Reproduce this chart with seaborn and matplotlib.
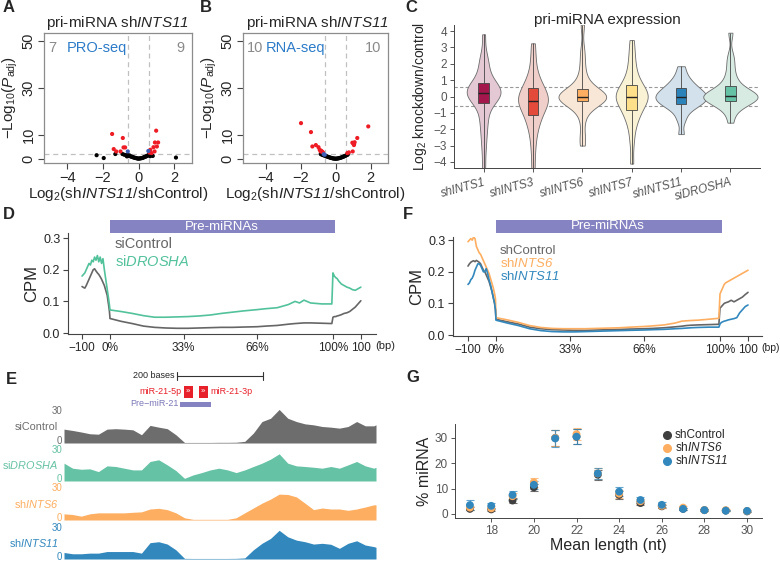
import matplotlib
matplotlib.use("Agg")
import matplotlib.pyplot as plt
import matplotlib.transforms as mtrans
from matplotlib.patches import Rectangle
from matplotlib.lines import Line2D
import pandas as pd
import seaborn as sns

sns.set_style("ticks")
plt.rcParams['font.family'] = ['Liberation Sans', 'DejaVu Sans']
plt.rcParams['mathtext.fontset'] = 'custom'
plt.rcParams['mathtext.rm'] = 'Liberation Sans'
plt.rcParams['mathtext.it'] = 'Liberation Sans:italic'
plt.rcParams['mathtext.bf'] = 'Liberation Sans:bold'
# \mathsf is used for italic gene names so that digits are italic too
plt.rcParams['mathtext.sf'] = 'Liberation Sans:italic'

W, H = 780, 563

# ---------------- data ----------------
# A: volcano, PRO-seq
A_BLACK_X = [-2.35, -1.95, -1.3, 2.1, -0.9, -0.8, -0.7, -0.65, -0.6, -0.55, -0.5, -0.45,
             -0.4, -0.35, -0.3, -0.25, -0.2, -0.15, -0.1, -0.05, 0.0, 0.05, 0.1, 0.15,
             0.2, 0.25, 0.3, 0.35, 0.4, 0.45, 0.5, 0.55, 0.6, 0.65, 0.7, 0.8]
A_BLACK_Y = [1.5, 0.3, 2.0, 0.5, 2.0, 1.7, 1.5, 1.0, 1.6, 1.2, 1.4, 1.0,
             0.9, 0.8, 0.6, 0.5, 0.4, 0.3, 0.2, 0.1, 0.05, 0.1, 0.15, 0.25,
             0.3, 0.45, 0.6, 0.8, 0.9, 1.1, 1.3, 1.5, 1.7, 1.1, 1.5, 1.2]
A_RED_X = [-1.48, -1.39, -1.25, -1.01, -0.84, -0.75, -0.88, 0.99, 0.92, 1.1, 1.03, 0.84,
           0.66, 0.9, 0.62, 0.73]
A_RED_Y = [10.5, 4.1, 3.1, 3.1, 4.8, 4.8, 8.8, 11.9, 6.9, 6.9, 5.2, 4.9, 3.8, 3.1, 2.6, 2.4]
A_BLUE_X = [-0.6, 0.55]
A_BLUE_Y = [3.1, 3.3]

# B: volcano, RNA-seq
B_BLACK_X = [-0.85, -0.8, -0.75, -0.7, -0.65, -0.6, -0.55, -0.5, -0.45, -0.4, -0.35, -0.3,
             -0.25, -0.2, -0.15, -0.1, -0.05, 0.0, 0.05, 0.1, 0.15, 0.2, 0.25, 0.3,
             0.35, 0.4, 0.45, 0.5, 0.55, 0.6, 0.65, 0.7]
B_BLACK_Y = [2.0, 1.8, 1.7, 1.5, 1.4, 1.3, 1.1, 1.0, 0.85, 0.7, 0.6, 0.45,
             0.35, 0.25, 0.15, 0.1, 0.05, 0.02, 0.05, 0.1, 0.15, 0.25, 0.35, 0.45,
             0.6, 0.75, 0.9, 1.05, 1.2, 1.4, 1.6, 1.8]
B_RED_X = [-1.98, -1.41, -1.33, -1.13, -0.98, -0.91, -0.86, -0.83, -0.78, -0.72,
           1.87, 1.24, 1.0, 1.06, 0.96, 1.09, 1.05, 0.98, 0.76, 0.67]
B_RED_Y = [15.1, 11.3, 5.2, 5.8, 4.9, 3.8, 3.1, 3.4, 3.1, 2.7,
           13.7, 8.8, 6.6, 6.2, 6.8, 7.0, 5.8, 3.1, 2.7, 2.4]
B_BLUE_X = [-0.62, -0.68]
B_BLUE_Y = [1.7, 1.9]

# C: violin values (log2 knockdown/control)
C_GROUPS = ["shINTS1", "shINTS3", "shINTS6", "shINTS7", "shINTS11", "siDROSHA"]
C_VALUES = {
    "shINTS1": [-4.4, -3.2, -2.4, -1.8, -1.3, -0.9, -0.4, -0.1, 0.0, 0.08, 0.14, 0.18, 0.2,
                0.24, 0.3, 0.38, 0.5, 0.65, 0.8, 1.0, 1.3, 1.8, 2.2, 2.4, 3.8],
    "shINTS3": [-4.4, -3.3, -2.5, -2.0, -1.6, -1.35, -1.15, -0.9, -0.7, -0.55, -0.42, -0.33,
                -0.25, -0.15, -0.05, 0.05, 0.18, 0.35, 0.55, 0.7, 0.9, 1.2, 1.7, 2.4, 3.25],
    "shINTS6": [-3.0, -2.4, -1.4, -0.8, -0.55, -0.4, -0.3, -0.08, -0.05, -0.03, -0.02, -0.01,
                0.0, 0.01, 0.02, 0.03, 0.05, 0.08, 0.45, 0.6, 0.9, 1.3, 2.0, 2.8, 4.4],
    "shINTS7": [-4.1, -2.8, -2.0, -1.5, -1.2, -1.0, -0.8, -0.55, -0.4, -0.28, -0.18, -0.08,
                0.0, 0.08, 0.16, 0.26, 0.38, 0.52, 0.7, 0.9, 1.2, 1.6, 2.1, 2.7, 3.45],
    "shINTS11": [-2.3, -1.5, -1.1, -0.8, -0.65, -0.55, -0.45, -0.35, -0.28, -0.2, -0.14, -0.07,
                 0.0, 0.08, 0.15, 0.22, 0.3, 0.4, 0.5, 0.6, 0.75, 0.9, 1.1, 1.4, 1.85],
    "siDROSHA": [-1.6, -1.0, -0.7, -0.5, -0.4, -0.32, -0.25, -0.15, -0.08, -0.04, -0.01, 0.02,
                 0.05, 0.08, 0.12, 0.2, 0.3, 0.45, 0.65, 0.8, 1.1, 1.5, 2.0, 2.5, 3.9],
}
C_BOX_COLORS = ["#a3174d", "#e34a3a", "#fdae61", "#fee08b", "#2b83ba", "#66c2a5"]
C_VIOLIN_COLORS = ["#e8c5d4", "#f6c9c4", "#fee7d0", "#fff5cf", "#cde1f1", "#d4eee4"]

# D / F: metagene profiles (CPM)
UP_BP = [-100, -95, -90, -85, -80, -75, -70, -65, -60, -55, -50, -45, -40, -35, -30, -25,
         -20, -15, -10, -5, -2, 0]
BODY_PCT = [0, 5, 10, 15, 20, 25, 30, 35, 40, 45, 50, 55, 60, 66, 70, 75, 80, 83, 85, 87,
            90, 95, 99.5]
DOWN_BP = [0, 5, 10, 15, 20, 30, 40, 50, 60, 70, 80, 90, 100]

D_SICONTROL = {
    "up": [0.147, 0.144, 0.142, 0.15, 0.16, 0.17, 0.18, 0.19, 0.2, 0.203, 0.196, 0.19, 0.185,
           0.178, 0.17, 0.16, 0.15, 0.135, 0.12, 0.09, 0.07, 0.05],
    "body": [0.046, 0.037, 0.03, 0.022, 0.018, 0.016, 0.015, 0.015, 0.016, 0.017, 0.018, 0.018,
             0.019, 0.02, 0.022, 0.024, 0.028, 0.03, 0.031, 0.032, 0.032, 0.031, 0.03],
    "down": [0.05, 0.052, 0.052, 0.054, 0.055, 0.058, 0.062, 0.064, 0.068, 0.075, 0.082, 0.092, 0.102],
}
D_SIDROSHA = {
    "up": [0.18, 0.185, 0.19, 0.2, 0.21, 0.22, 0.215, 0.23, 0.225, 0.24, 0.23, 0.245, 0.225,
           0.24, 0.22, 0.235, 0.2, 0.17, 0.14, 0.11, 0.09, 0.075],
    "body": [0.073, 0.068, 0.062, 0.055, 0.05, 0.05, 0.051, 0.052, 0.054, 0.057, 0.062, 0.066,
             0.07, 0.074, 0.077, 0.08, 0.09, 0.1, 0.095, 0.104, 0.095, 0.092, 0.092],
    "down": [0.19, 0.18, 0.175, 0.172, 0.165, 0.155, 0.15, 0.145, 0.142, 0.137, 0.135, 0.14, 0.145],
}
F_SHCONTROL = {
    "up": [0.218, 0.225, 0.23, 0.233, 0.235, 0.232, 0.236, 0.233, 0.23, 0.225, 0.215, 0.205,
           0.2, 0.19, 0.18, 0.17, 0.155, 0.14, 0.12, 0.1, 0.08, 0.05],
    "body": [0.05, 0.042, 0.035, 0.025, 0.02, 0.017, 0.016, 0.015, 0.015, 0.016, 0.017, 0.018,
             0.019, 0.02, 0.021, 0.023, 0.026, 0.028, 0.03, 0.031, 0.032, 0.033, 0.034],
    "down": [0.085, 0.09, 0.095, 0.1, 0.102, 0.105, 0.11, 0.105, 0.11, 0.115, 0.12, 0.128, 0.135],
}
F_SHINTS6 = {
    "up": [0.295, 0.3, 0.305, 0.3, 0.31, 0.305, 0.28, 0.27, 0.26, 0.255, 0.245, 0.235, 0.225,
           0.215, 0.205, 0.195, 0.18, 0.165, 0.15, 0.13, 0.115, 0.055],
    "body": [0.055, 0.048, 0.04, 0.03, 0.024, 0.021, 0.02, 0.02, 0.02, 0.021, 0.022, 0.023,
             0.025, 0.027, 0.029, 0.032, 0.038, 0.044, 0.045, 0.046, 0.047, 0.05, 0.053],
    "down": [0.13, 0.14, 0.15, 0.16, 0.165, 0.17, 0.175, 0.18, 0.185, 0.19, 0.195, 0.2, 0.205],
}
F_SHINTS11 = {
    "up": [0.16, 0.165, 0.175, 0.18, 0.19, 0.205, 0.215, 0.225, 0.225, 0.22, 0.21, 0.2, 0.2,
           0.21, 0.195, 0.175, 0.16, 0.14, 0.12, 0.1, 0.08, 0.047],
    "body": [0.047, 0.038, 0.03, 0.02, 0.014, 0.011, 0.01, 0.01, 0.011, 0.012, 0.013, 0.014,
             0.015, 0.016, 0.017, 0.018, 0.02, 0.021, 0.022, 0.023, 0.024, 0.025, 0.025],
    "down": [0.035, 0.04, 0.042, 0.044, 0.045, 0.048, 0.05, 0.052, 0.055, 0.07, 0.08, 0.09, 0.095],
}

# E: genome browser tracks around miR-21 (bases)
TRACK_POS = [0, 20, 40, 60, 80, 100, 120, 140, 160, 180, 200, 220, 240, 260, 280, 300, 320,
             340, 360, 380, 400, 420, 440, 460, 480, 500, 520, 540, 560, 580, 600, 620, 640,
             660, 680, 700, 720, 725]
TRACK_SICONTROL = [12.6, 11.4, 10, 8.4, 8, 12.6, 13, 12.6, 12, 7.5, 16, 14.4, 13, 7.5, 0.5, 0.5,
                   0.5, 0.5, 0.6, 0.6, 0.7, 1.5, 9, 19.5, 22.5, 30.5, 22.5, 19.5, 17.4, 16.5,
                   15, 14.4, 13.5, 15, 19.5, 15.6, 15.6, 16.5]
TRACK_SIDROSHA = [16.7, 12, 11, 11.4, 8.8, 14.2, 13.6, 12, 10.4, 10.4, 18.3, 19.9, 15.1, 9.8,
                  2.5, 5.7, 7.9, 10.4, 12, 10.4, 7.9, 10.4, 13.6, 16.7, 20.5, 25.5, 16.7, 14.2,
                  13.6, 12.9, 12, 13.6, 12, 15.1, 18.3, 14.2, 12, 12.9]
TRACK_SHINTS6 = [5.6, 5, 3.5, 5.6, 6.5, 6.5, 6.5, 6.5, 7, 7.4, 10, 10.6, 9.4, 6.5, 2, 0.6, 0.6,
                 0.6, 0.6, 0.6, 2, 6.5, 10.9, 15.3, 19, 23.5, 23.2, 21, 15.3, 9.4, 10.9, 10,
                 10, 8.8, 10, 11.8, 13.8, 13.8]
TRACK_SHINTS11 = [6.1, 4.9, 4.9, 5.5, 5.5, 7, 7, 7, 7, 5.5, 15.3, 16.2, 14, 8.6, 0.6, 0.5, 0.5,
                  0.5, 0.5, 0.5, 0.6, 1, 8.6, 14.7, 19.3, 26.9, 20.8, 17.7, 16.2, 14, 14.7,
                  13.8, 10, 14.7, 17.1, 13.1, 11.6, 11]
SCALE_BAR = (262, 462)
MIR_5P = (279, 300)
MIR_3P = (314, 335)
PRE_MIR = (270, 342)

# G: miRNA length distribution
LENGTHS = [17, 18, 19, 20, 21, 22, 23, 24, 25, 26, 27, 28, 29, 30]
G_SHCONTROL = [2.0, 1.8, 5.3, 10.5, 30.0, 30.5, 15.5, 7.5, 4.3, 3.0, 2.0, 1.5, 1.3, 1.0]
G_SHINTS6 = [2.5, 2.2, 7.0, 12.5, 30.0, 31.5, 16.0, 8.0, 5.0, 3.2, 2.5, 1.5, 1.5, 1.2]
G_SHINTS11 = [3.5, 3.2, 7.5, 11.5, 29.8, 30.5, 16.0, 8.8, 5.5, 3.6, 2.0, 1.5, 1.3, 1.2]
G_SHCONTROL_SD = [0.6, 0.6, 0.8, 1.5, 3.0, 3.0, 2.0, 1.5, 0.8, 0.6, 0.4, 0.3, 0.3, 0.3]
G_SHINTS6_SD = [0.8, 0.8, 1.2, 1.8, 3.2, 2.5, 2.2, 1.6, 1.0, 0.8, 0.5, 0.3, 0.3, 0.3]
G_SHINTS11_SD = [2.0, 1.2, 1.5, 1.5, 3.4, 3.0, 2.2, 1.8, 1.2, 1.0, 0.5, 0.3, 0.3, 0.3]

GRAY = "#666666"
GREEN = "#52c29b"
ORANGE = "#fdae61"
BLUE = "#3288bd"
PURPLE = "#8583c1"


def box(x0, y0, x1, y1):
    # pixel box (top-left origin) -> figure fraction rect
    return [x0 / W, 1 - y1 / H, (x1 - x0) / W, (y1 - y0) / H]


def ftext(x, y, s, **kw):
    fig.text(x / W, 1 - y / H, s, **kw)


fig = plt.figure(figsize=(7.8, 5.63), dpi=100)

# panel letters
for letter, (lx, ly) in {"A": (3, 8), "B": (200, 8), "C": (405, 8), "D": (3, 215),
                         "F": (403, 215), "E": (6, 380), "G": (406, 378)}.items():
    ftext(lx, ly, letter, fontsize=12, fontweight="bold", va="center")


# ---------------- A / B volcano ----------------
def volcano(rect, bx, by, rx, ry, ux, uy, n_down, n_up, assay, title_x):
    ax = fig.add_axes(box(*rect))
    df = pd.DataFrame({
        "lfc": bx + rx + ux,
        "p": by + ry + uy,
        "grp": ["ns"] * len(bx) + ["sig"] * len(rx) + ["near"] * len(ux),
    })
    for v in (-0.585, 0.585):
        ax.axvline(v, ls=(0, (4, 3)), color="#c0c0c0", lw=0.9, zorder=1)
    ax.axhline(2, ls=(0, (4, 3)), color="#c0c0c0", lw=0.9, zorder=1)
    sns.scatterplot(data=df, x="lfc", y="p", hue="grp",
                    palette={"ns": "black", "sig": "#ee1c25", "near": "#3d5fb8"},
                    s=9, linewidth=0, legend=False, ax=ax, zorder=3)
    ax.set_xlim(-5.3, 3.0)
    ax.set_ylim(-1.8, 53.3)
    ax.set_xticks([-4, -2, 0, 2])
    ax.set_xticklabels(["\u22124", "\u22122", "0", "2"])
    ax.set_yticks([0, 10, 30, 50])
    ax.set_yticklabels(["0", "10", "30", "50"], rotation=90, va="center")
    ax.tick_params(labelsize=10.5, length=4, width=0.8, color="#444444", pad=2)
    for sp in ax.spines.values():
        sp.set_color("#8c8c8c")
        sp.set_linewidth(0.9)
    ax.set_xlabel(r"Log$_2$(sh$\mathsf{INTS11}$/shControl)", fontsize=11, labelpad=0)
    ax.set_ylabel(r"$-$Log$_{10}$($P_{\mathrm{adj}}$)", fontsize=11, labelpad=1)
    ax.text(-5.05, 47, str(n_down), color="#8a8a8a", fontsize=10.5, va="center", ha="left")
    ax.text(2.6, 47, str(n_up), color="#8a8a8a", fontsize=10.5, va="center", ha="right")
    ax.text(assay[1], 47, assay[0], color="#2b7bc8", fontsize=10.5, va="center", ha="center")
    ftext(title_x, 23, r"pri-miRNA sh$\mathsf{INTS11}$", fontsize=11, ha="center", va="center")
    return ax


volcano((44, 33, 192, 163), A_BLACK_X, A_BLACK_Y, A_RED_X, A_RED_Y, A_BLUE_X, A_BLUE_Y,
        7, 9, ("PRO-seq", -2.35), 118)
volcano((243, 33, 388, 163), B_BLACK_X, B_BLACK_Y, B_RED_X, B_RED_Y, B_BLUE_X, B_BLUE_Y,
        10, 10, ("RNA-seq", -2.3), 318)

# ---------------- C violins ----------------
axC = fig.add_axes(box(454, 25, 760, 168))
dfc = pd.DataFrame([(g, v) for g in C_GROUPS for v in C_VALUES[g]], columns=["group", "value"])
for v in (-0.585, 0.585):
    axC.axhline(v, ls=(0, (3, 2)), color="#999999", lw=0.8, zorder=0)
sns.violinplot(data=dfc, x="group", y="value", hue="group", order=C_GROUPS,
               palette=dict(zip(C_GROUPS, C_VIOLIN_COLORS)), cut=0, inner=None,
               density_norm="area", common_norm=True, width=1.1, bw_adjust=0.65,
               linewidth=0.6, linecolor="#6b6b6b", legend=False, ax=axC)
sns.boxplot(data=dfc, x="group", y="value", hue="group", order=C_GROUPS,
            palette=dict(zip(C_GROUPS, C_BOX_COLORS)), width=0.22, whis=(0, 100),
            showfliers=False, linewidth=0.6, linecolor="#444444", saturation=1,
            capprops=dict(linewidth=0), medianprops=dict(color="#222222", linewidth=1.0),
            legend=False, ax=axC)
axC.set_xlim(-0.6, 5.6)
axC.set_ylim(-4.37, 4.37)
axC.set_yticks([-4, -3, -2, -1, 0, 1, 2, 3, 4])
axC.set_yticklabels(["\u22124", "\u22123", "\u22122", "\u22121", "0", "1", "2", "3", "4"])
axC.set_xticks(range(len(C_GROUPS)))
axC.set_xticklabels(C_GROUPS, rotation=15, ha="right", rotation_mode="anchor",
                    fontstyle="italic")
axC.tick_params(labelsize=8.5, colors="#555555", length=3, width=0.7, pad=2)
axC.tick_params(axis="x", labelsize=8.5, pad=3)
sns.despine(ax=axC)
for sp in ("left", "bottom"):
    axC.spines[sp].set_color("#444444")
    axC.spines[sp].set_linewidth(0.7)
axC.set_xlabel("")
axC.set_ylabel(r"Log$_2$ knockdown/control", fontsize=10, labelpad=3)
ftext(607, 20, "pri-miRNA expression", fontsize=11, ha="center", va="center")


# ---------------- D / F metagene ----------------
FLANK = 0.125  # plot units per bp on the flanks


def profile_df(series):
    rows = []
    for name, d in series.items():
        xs = [bp * FLANK for bp in UP_BP] + BODY_PCT + [100 + bp * FLANK for bp in DOWN_BP]
        ys = d["up"] + d["body"] + d["down"]
        rows += [(name, x, y) for x, y in zip(xs, ys)]
    return pd.DataFrame(rows, columns=["sample", "pos", "cpm"])


def metagene(rect, series, palette, xlim, ytop, bp_x, bp_size):
    ax = fig.add_axes(box(*rect))
    df = profile_df(series)
    sns.lineplot(data=df, x="pos", y="cpm", hue="sample", palette=palette, sort=False,
                 estimator=None, legend=False, lw=1.2, ax=ax)
    ax.set_xlim(*xlim)
    ax.set_ylim(-0.003, ytop)
    ax.set_yticks([0.0, 0.1, 0.2, 0.3])
    ax.set_yticklabels(["0.0", "0.1", "0.2", "0.3"])
    ax.set_xticks([-100 * FLANK, 0, 33, 66, 100, 100 + 100 * FLANK])
    ax.set_xticklabels(["\u2212100", "0%", "33%", "66%", "100%", "100"])
    ax.tick_params(labelsize=8.5, length=3.5, width=0.8, color="#444444", pad=2)
    ax.tick_params(axis="y", labelsize=9)
    sns.despine(ax=ax)
    for sp in ("left", "bottom"):
        ax.spines[sp].set_color("#444444")
        ax.spines[sp].set_linewidth(0.8)
    ax.set_xlabel("")
    ax.set_ylabel("CPM", fontsize=12, labelpad=3)
    trans = mtrans.blended_transform_factory(ax.transData, ax.transAxes)
    h = rect[3] - rect[1]
    bottom = 1.0 + (rect[1] - 233) / h
    ax.add_patch(Rectangle((0, bottom), 101, 13 / h, transform=trans, color=PURPLE,
                           clip_on=False, lw=0))
    ax.text(50, bottom + 6.5 / h, "Pre-miRNAs", transform=trans, color="white",
            fontsize=9.5, ha="center", va="center")
    ftext(bp_x, rect[3] + 12, "(bp)", fontsize=bp_size, ha="left", va="center")
    return ax


metagene((68, 233, 376, 334), {"siControl": D_SICONTROL, "siDROSHA": D_SIDROSHA},
         {"siControl": GRAY, "siDROSHA": GREEN}, (-18.8, 119.3), 0.316, 375, 8)
ftext(115, 244, "siControl", color=GRAY, fontsize=10.5, va="center")
ftext(115, 262, r"si$\mathsf{DROSHA}$", color=GREEN, fontsize=10.5, va="center")

metagene((453, 237, 762, 336), {"shControl": F_SHCONTROL, "shINTS6": F_SHINTS6,
                                "shINTS11": F_SHINTS11},
         {"shControl": GRAY, "shINTS6": ORANGE, "shINTS11": BLUE}, (-19.2, 118.75), 0.31,
         761, 7.5)
ftext(500, 251, "shControl", color=GRAY, fontsize=9.5, va="center")
ftext(500, 263.5, r"sh$\mathsf{INTS6}$", color=ORANGE, fontsize=9.5, va="center")
ftext(500, 276, r"sh$\mathsf{INTS11}$", color=BLUE, fontsize=9.5, va="center")

# ---------------- E tracks ----------------
tracks = [
    ("siControl", TRACK_SICONTROL, "#6d6d6d", 410, 443),
    (r"si$\mathsf{DROSHA}$", TRACK_SIDROSHA, "#66c2a5", 449, 481),
    (r"sh$\mathsf{INTS6}$", TRACK_SHINTS6, ORANGE, 487, 520),
    (r"sh$\mathsf{INTS11}$", TRACK_SHINTS11, BLUE, 527, 559),
]
for label, vals, col, top, base in tracks:
    ax = fig.add_axes(box(64, top, 376, base))
    ax.fill_between(TRACK_POS, vals, color=col, lw=0, clip_on=False)
    ax.set_xlim(0, 725)
    ax.set_ylim(0, 30)
    ax.axis("off")
    ftext(62, top + 1, "30", color=col, fontsize=7, ha="right", va="center")
    ftext(62, base - 2, "0", color=col, fontsize=7, ha="right", va="center")
    ftext(58, (top + base) / 2, label, color=col, fontsize=7.8, ha="right", va="center")

axAnn = fig.add_axes(box(64, 368, 376, 410))
axAnn.set_xlim(0, 725)
axAnn.set_ylim(410, 368)
axAnn.axis("off")
axAnn.plot(SCALE_BAR, [376, 376], color="#333333", lw=0.8)
for xb in SCALE_BAR:
    axAnn.plot([xb, xb], [372, 380], color="#333333", lw=0.8)
axAnn.text(SCALE_BAR[0] - 6, 376, "200 bases", fontsize=6.5, ha="right", va="center")
for seg in (MIR_5P, MIR_3P):
    axAnn.add_patch(Rectangle((seg[0], 386), seg[1] - seg[0], 12, color="#e8202a", lw=0))
    axAnn.text((seg[0] + seg[1]) / 2, 392, "\u203a\u203a", color="white", fontsize=6,
               ha="center", va="center")
axAnn.text(MIR_5P[0] - 6, 392, "miR-21-5p", color="#e8202a", fontsize=6.5, ha="right", va="center")
axAnn.text(MIR_3P[1] + 6, 392, "miR-21-3p", color="#e8202a", fontsize=6.5, ha="left", va="center")
axAnn.add_patch(Rectangle((PRE_MIR[0], 401.5), PRE_MIR[1] - PRE_MIR[0], 5, color=PURPLE, lw=0))
axAnn.text(PRE_MIR[0] - 4, 404, "Pre\u2212miR-21", color="#7b78b8", fontsize=6.5, ha="right",
           va="center")

# ---------------- G length distribution ----------------
axG = fig.add_axes(box(455, 424, 762, 518))
g_series = [("shControl", G_SHCONTROL, G_SHCONTROL_SD, "#3f3f3f"),
            ("shINTS6", G_SHINTS6, G_SHINTS6_SD, ORANGE),
            ("shINTS11", G_SHINTS11, G_SHINTS11_SD, BLUE)]
for name, vals, sd, col in g_series:
    axG.errorbar(LENGTHS, vals, yerr=sd, fmt="none", ecolor=col, elinewidth=0.8, capsize=3,
                 capthick=0.8, alpha=0.75, zorder=2)
dfg = pd.DataFrame([(name, l, v) for name, vals, sd, col in g_series
                    for l, v in zip(LENGTHS, vals)], columns=["sample", "length", "pct"])
sns.scatterplot(data=dfg, x="length", y="pct", hue="sample",
                palette={n: c for n, v, s, c in g_series}, s=32, linewidth=0,
                legend=False, ax=axG, zorder=3)
axG.set_xlim(16.3, 30.7)
axG.set_ylim(-1.6, 35.5)
axG.set_xticks([18, 20, 22, 24, 26, 28, 30])
axG.set_yticks([0, 10, 20, 30])
axG.tick_params(labelsize=8.5, colors="#555555", length=3, width=0.7, pad=2)
sns.despine(ax=axG)
for sp in ("left", "bottom"):
    axG.spines[sp].set_color("#444444")
    axG.spines[sp].set_linewidth(0.7)
axG.set_xlabel("Mean length (nt)", fontsize=11.5, labelpad=1)
axG.set_ylabel("% miRNA", fontsize=11.5, labelpad=2)
handles = [Line2D([], [], ls="none", marker="o", ms=5.5, color=c) for n, v, s, c in g_series]
axG.legend(handles, ["shControl", r"sh$\mathsf{INTS6}$", r"sh$\mathsf{INTS11}$"],
           loc="upper left", bbox_to_anchor=(0.64, 1.03), frameon=False, fontsize=8.5,
           handletextpad=0.1, labelspacing=0.0, handleheight=0.5, borderpad=0.2,
           handlelength=1.2)

fig.savefig("out.png", dpi=100)
